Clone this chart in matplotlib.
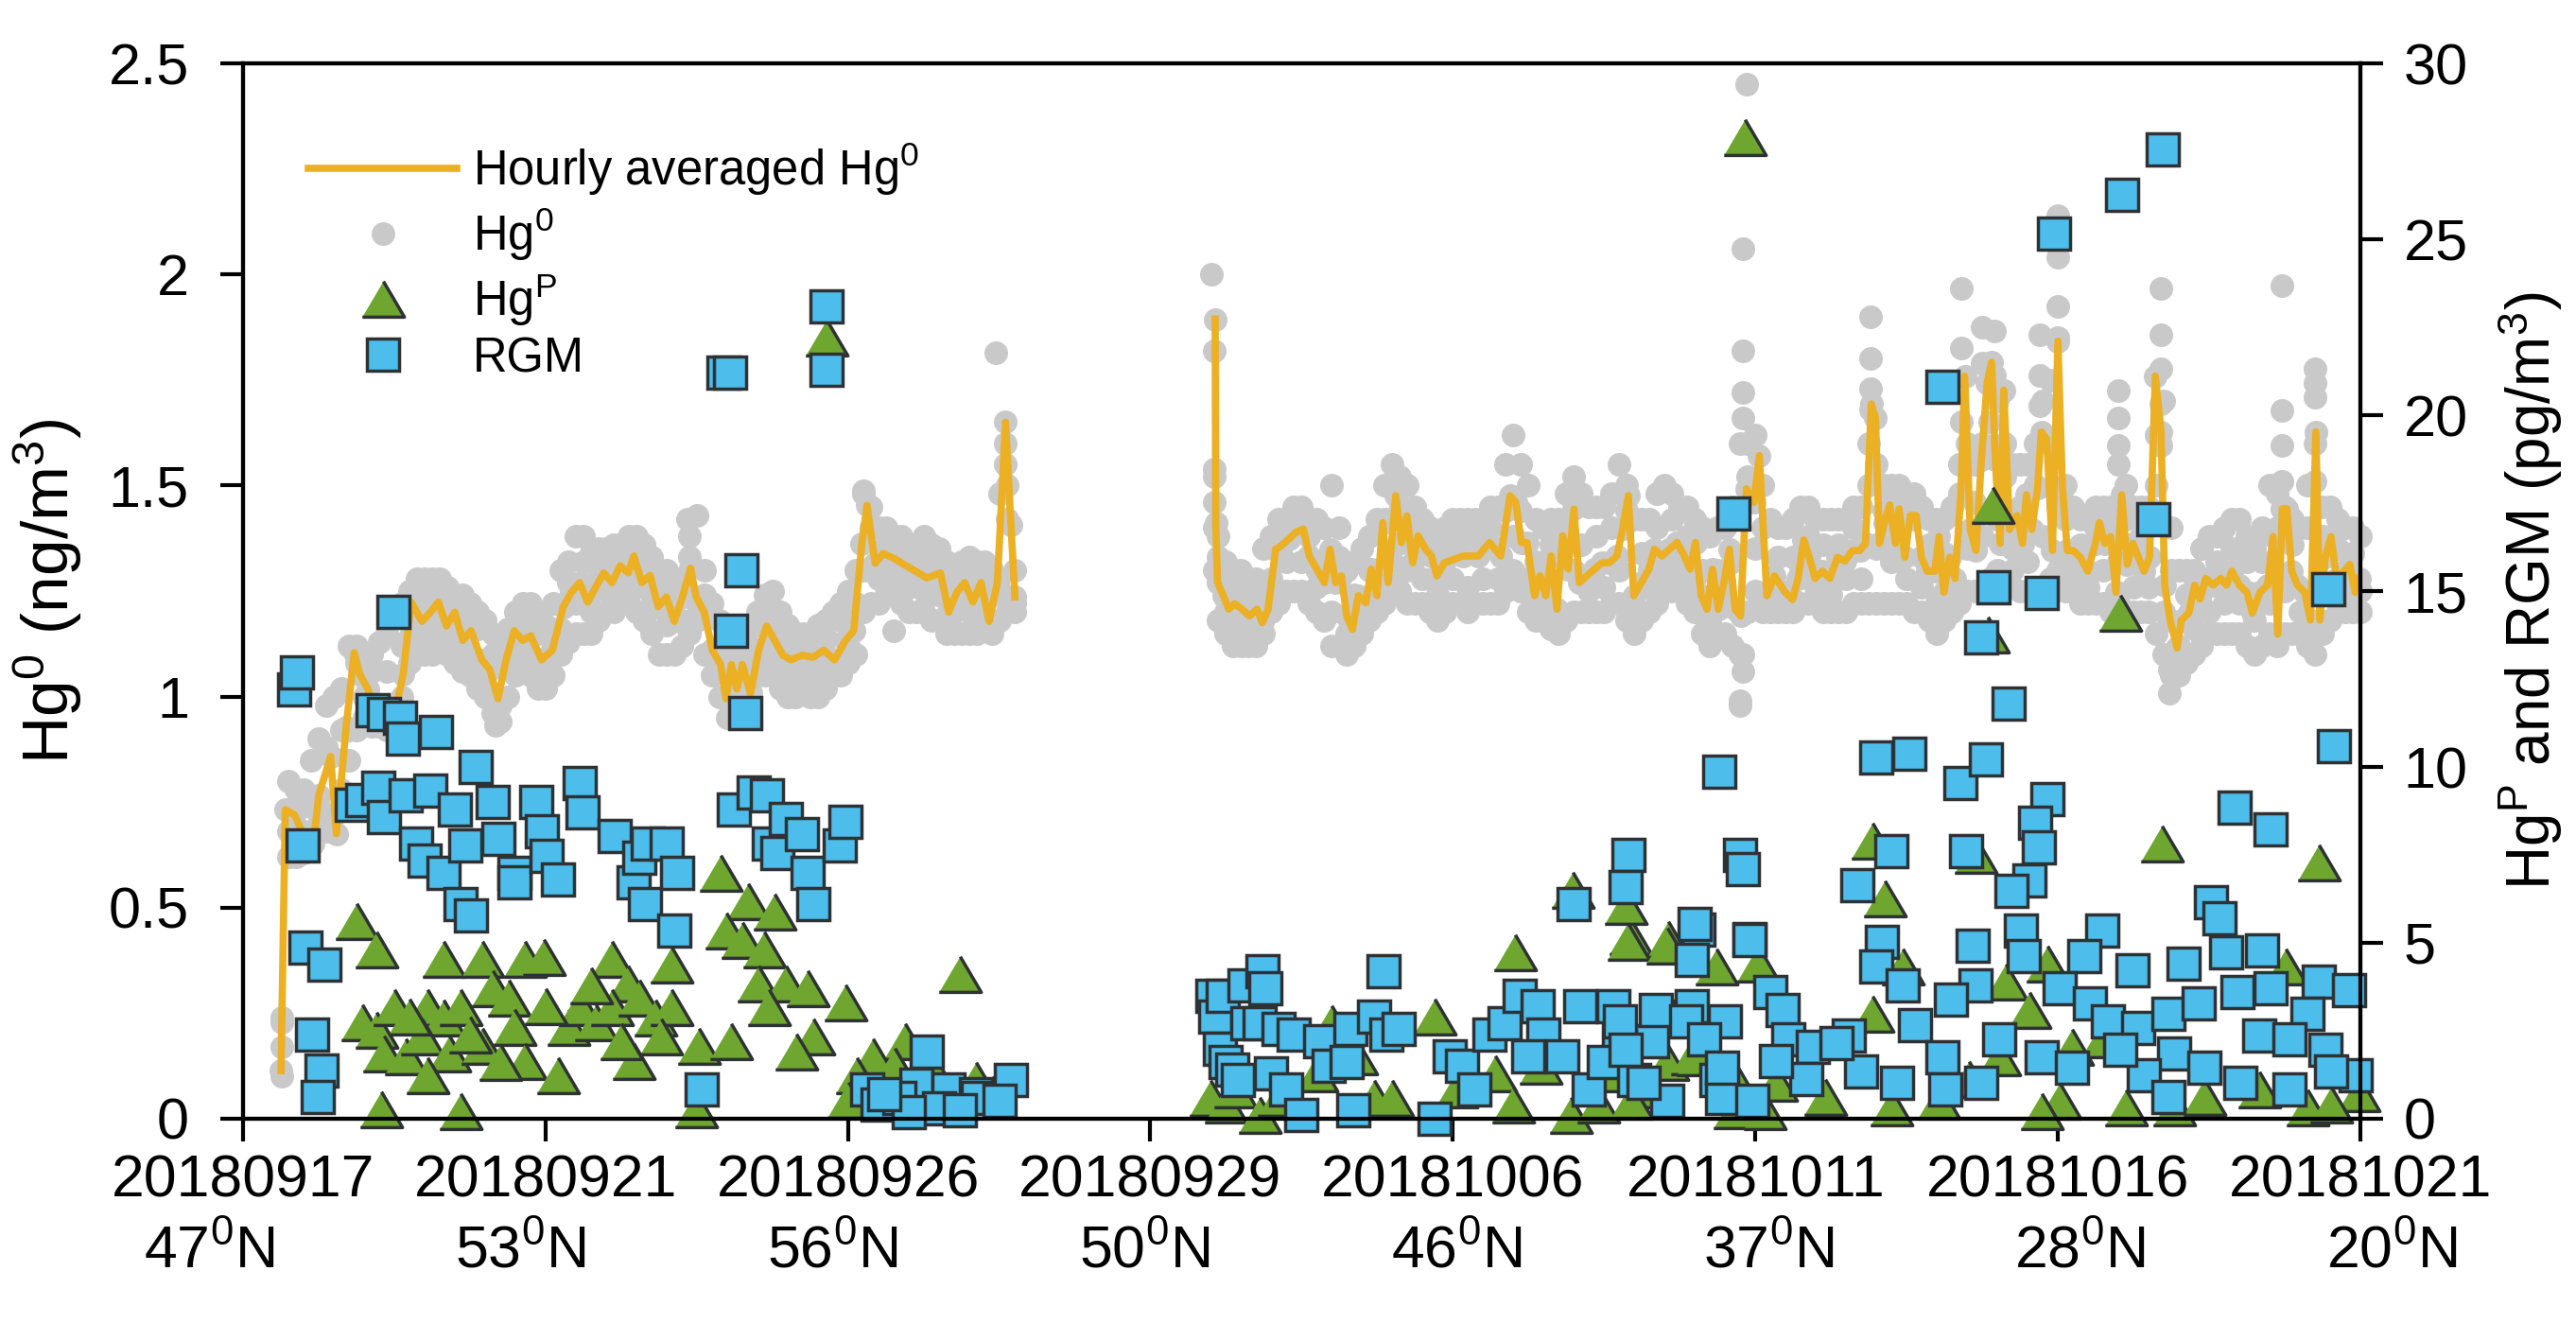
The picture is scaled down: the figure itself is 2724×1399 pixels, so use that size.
import numpy as np
import matplotlib
matplotlib.use("Agg")
import matplotlib.pyplot as plt
import matplotlib.transforms as mtransforms
from matplotlib.ticker import FormatStrFormatter

plt.rcParams['font.family'] = ['Liberation Sans', 'DejaVu Sans']
plt.rcParams['mathtext.fontset'] = 'custom'
plt.rcParams['mathtext.rm'] = 'Liberation Sans'
plt.rcParams['mathtext.it'] = 'Liberation Sans'
plt.rcParams['mathtext.default'] = 'regular'

# ---------------- data (x in tick units: 0 = 20180917 ... 7 = 20181021) ----------------
dates = ['20180917', '20180921', '20180926', '20180929',
         '20181006', '20181011', '20181016', '20181021']
lats = ['47', '53', '56', '50', '46', '37', '28', '20']

# hourly averaged Hg0 (ng/m3), leg 1
hourly_x1 = [0.126, 0.14, 0.17, 0.206, 0.233, 0.251, 0.29, 0.309, 0.341, 0.368, 0.386, 0.413,
             0.44, 0.502, 0.53, 0.556, 0.592, 0.62, 0.646, 0.673, 0.7, 0.727, 0.754, 0.79,
             0.816, 0.843, 0.87, 0.897, 0.924, 0.951, 0.987, 1.023, 1.059, 1.086, 1.113, 1.14,
             1.166, 1.193, 1.22, 1.247, 1.274, 1.292, 1.319, 1.346, 1.373, 1.4, 1.426, 1.453,
             1.48, 1.498, 1.525, 1.552, 1.579, 1.597, 1.615, 1.633, 1.651, 1.678, 1.705, 1.731,
             1.758, 1.785, 1.812, 1.848, 1.884, 1.92, 1.956, 1.992, 2.019, 2.046, 2.063, 2.09,
             2.117, 2.153, 2.207, 2.261, 2.306, 2.333, 2.36, 2.386, 2.413, 2.44, 2.467, 2.494,
             2.521, 2.539, 2.552]
hourly_y1 = [0.114, 0.732, 0.72, 0.664, 0.652, 0.767, 0.858, 0.675, 0.927, 1.104, 1.053, 1.018,
             0.95, 0.961, 1.053, 1.224, 1.178, 1.2, 1.224, 1.167, 1.2, 1.133, 1.156, 1.087,
             1.064, 0.995, 1.087, 1.156, 1.133, 1.144, 1.087, 1.11, 1.213, 1.247, 1.27, 1.224,
             1.259, 1.293, 1.27, 1.31, 1.293, 1.333, 1.27, 1.287, 1.213, 1.236, 1.178, 1.236,
             1.304, 1.236, 1.2, 1.11, 1.076, 0.995, 1.076, 1.018, 1.076, 1.007, 1.11, 1.167,
             1.133, 1.098, 1.087, 1.098, 1.093, 1.11, 1.087, 1.133, 1.156, 1.362, 1.453, 1.316,
             1.339, 1.327, 1.304, 1.281, 1.293, 1.2, 1.247, 1.27, 1.224, 1.27, 1.178, 1.27,
             1.65, 1.407, 1.236]

# hourly averaged Hg0 (ng/m3), leg 2
hourly_x2 = [3.214, 3.216, 3.222, 3.241, 3.259, 3.278, 3.303, 3.327, 3.352, 3.37, 3.389, 3.414,
             3.432, 3.457, 3.481, 3.506, 3.525, 3.55, 3.575, 3.594, 3.612, 3.631, 3.649, 3.668,
             3.687, 3.712, 3.73, 3.749, 3.768, 3.786, 3.811, 3.83, 3.848, 3.867, 3.885, 3.91,
             3.929, 3.947, 3.972, 4.034, 4.084, 4.121, 4.158, 4.189, 4.208, 4.226, 4.245, 4.27,
             4.288, 4.307, 4.325, 4.344, 4.363, 4.381, 4.4, 4.418, 4.443, 4.468, 4.493, 4.517,
             4.542, 4.561, 4.58, 4.598, 4.623, 4.648, 4.666, 4.691, 4.716, 4.741, 4.765, 4.784,
             4.802, 4.821, 4.84, 4.858, 4.877, 4.896, 4.914, 4.933, 4.951, 4.97, 4.995, 5.013,
             5.038, 5.063, 5.098, 5.123, 5.141, 5.16, 5.178, 5.197, 5.222, 5.246, 5.271, 5.296,
             5.321, 5.345, 5.364, 5.383, 5.397, 5.41, 5.426, 5.444, 5.463, 5.475, 5.494, 5.512,
             5.531, 5.549, 5.568, 5.593, 5.607, 5.623, 5.642, 5.66, 5.679, 5.692, 5.71, 5.729,
             5.747, 5.766, 5.781, 5.793, 5.809, 5.821, 5.84, 5.865, 5.883, 5.896, 5.914, 5.933,
             5.945, 5.963, 5.982, 6.0, 6.015, 6.031, 6.05, 6.074, 6.099, 6.124, 6.137, 6.155,
             6.174, 6.192, 6.211, 6.229, 6.248, 6.266, 6.285, 6.303, 6.322, 6.341, 6.353, 6.371,
             6.394, 6.408, 6.433, 6.452, 6.47, 6.489, 6.513, 6.538, 6.557, 6.575, 6.6, 6.625,
             6.643, 6.668, 6.693, 6.711, 6.727, 6.742, 6.757, 6.773, 6.792, 6.816, 6.835, 6.853,
             6.866, 6.884, 6.903, 6.921, 6.946, 6.965, 6.983, 6.996]
hourly_y2 = [1.894, 1.412, 1.27, 1.239, 1.207, 1.22, 1.207, 1.191, 1.207, 1.175, 1.207, 1.349,
             1.357, 1.373, 1.389, 1.397, 1.333, 1.302, 1.27, 1.349, 1.27, 1.286, 1.191, 1.159,
             1.239, 1.222, 1.302, 1.239, 1.412, 1.27, 1.476, 1.365, 1.428, 1.317, 1.381, 1.349,
             1.333, 1.286, 1.317, 1.333, 1.333, 1.365, 1.333, 1.476, 1.46, 1.365, 1.365, 1.239,
             1.286, 1.239, 1.333, 1.207, 1.381, 1.302, 1.444, 1.27, 1.286, 1.302, 1.317, 1.317,
             1.333, 1.397, 1.476, 1.239, 1.27, 1.302, 1.349, 1.333, 1.349, 1.365, 1.333, 1.302,
             1.365, 1.239, 1.207, 1.302, 1.207, 1.27, 1.349, 1.207, 1.191, 1.492, 1.46, 1.571,
             1.239, 1.286, 1.247, 1.23, 1.28, 1.371, 1.33, 1.28, 1.297, 1.28, 1.33, 1.321,
             1.346, 1.346, 1.363, 1.693, 1.66, 1.363, 1.412, 1.454, 1.363, 1.445, 1.33, 1.429,
             1.429, 1.33, 1.297, 1.297, 1.379, 1.247, 1.33, 1.28, 1.478, 1.759, 1.396, 1.346,
             1.561, 1.743, 1.792, 1.561, 1.363, 1.726, 1.396, 1.429, 1.363, 1.478, 1.396, 1.495,
             1.627, 1.61, 1.346, 1.842, 1.495, 1.346, 1.346, 1.33, 1.297, 1.363, 1.412, 1.363,
             1.379, 1.247, 1.478, 1.313, 1.363, 1.33, 1.297, 1.33, 1.759, 1.627, 1.264, 1.181,
             1.115, 1.181, 1.198, 1.264, 1.231, 1.28, 1.264, 1.28, 1.264, 1.297, 1.264, 1.247,
             1.198, 1.247, 1.264, 1.379, 1.148, 1.445, 1.445, 1.297, 1.264, 1.247, 1.181, 1.627,
             1.181, 1.33, 1.379, 1.28, 1.297, 1.313, 1.247, 1.28]

# raw Hg0 points, first row: lower edge, lower middle, upper edge of the scatter band
band_x = [0.13, 0.15, 0.2, 0.25, 0.3, 0.35, 0.4, 0.45, 0.5, 0.55, 0.6, 0.65, 0.7, 0.75, 0.8,
          0.85, 0.9, 0.95, 1.0, 1.05, 1.1, 1.15, 1.2, 1.25, 1.3, 1.35, 1.4, 1.45, 1.5, 1.55,
          1.6, 1.65, 1.7, 1.75, 1.8, 1.85, 1.9, 1.95, 2.0, 2.05, 2.1, 2.15, 2.2, 2.25, 2.3,
          2.35, 2.4, 2.45, 2.5, 2.55,
          3.21, 3.25, 3.3, 3.35, 3.4, 3.45, 3.5, 3.55, 3.6, 3.65, 3.7, 3.75, 3.8, 3.85, 3.9,
          3.95, 4.0, 4.05, 4.1, 4.15, 4.2, 4.25, 4.3, 4.35, 4.4, 4.45, 4.5, 4.55, 4.6, 4.65,
          4.7, 4.75, 4.8, 4.85, 4.9, 4.95, 5.0, 5.05, 5.1, 5.15, 5.2, 5.25, 5.3, 5.35, 5.4,
          5.45, 5.5, 5.55, 5.6, 5.65, 5.7, 5.75, 5.8, 5.85, 5.9, 5.95, 6.0, 6.05, 6.1, 6.15,
          6.2, 6.25, 6.3, 6.35, 6.4, 6.45, 6.5, 6.55, 6.6, 6.65, 6.7, 6.75, 6.8, 6.85, 6.9,
          6.95, 7.0]
band_lo = [0.1, 0.62, 0.63, 0.7, 0.68, 0.85, 0.95, 0.93, 0.95, 1.08, 1.1, 1.12, 1.08, 1.05, 1.0,
           0.94, 1.05, 1.05, 1.02, 1.1, 1.15, 1.15, 1.2, 1.22, 1.2, 1.15, 1.1, 1.12, 1.18, 1.05,
           0.95, 0.98, 1.05, 1.05, 1.0, 1.02, 1.0, 1.05, 1.08, 1.2, 1.22, 1.25, 1.2, 1.2, 1.18,
           1.15, 1.15, 1.18, 1.18, 1.2,
           1.3, 1.15, 1.12, 1.12, 1.2, 1.25, 1.25, 1.2, 1.12, 1.1, 1.15, 1.2, 1.25, 1.22, 1.22,
           1.18, 1.22, 1.2, 1.22, 1.22, 1.3, 1.2, 1.18, 1.15, 1.2, 1.2, 1.2, 1.22, 1.15, 1.2,
           1.25, 1.25, 1.2, 1.12, 1.15, 0.98, 1.25, 1.2, 1.2, 1.22, 1.22, 1.2, 1.2, 1.22, 1.22,
           1.22, 1.22, 1.2, 1.15, 1.2, 1.25, 1.25, 1.3, 1.3, 1.25, 1.25, 1.3, 1.25, 1.22, 1.22,
           1.22, 1.2, 1.2, 1.1, 1.05, 1.1, 1.15, 1.15, 1.15, 1.1, 1.15, 1.15, 1.15, 1.1, 1.18,
           1.2, 1.2]
band_mid = [0.17, 0.68, 0.68, 0.74, 0.72, 0.92, 1.0, 0.96, 0.98, 1.14, 1.15, 1.16, 1.12, 1.1, 1.05,
            0.98, 1.1, 1.1, 1.06, 1.16, 1.22, 1.2, 1.25, 1.27, 1.26, 1.22, 1.17, 1.18, 1.22, 1.1,
            1.0, 1.03, 1.08, 1.1, 1.05, 1.06, 1.05, 1.08, 1.12, 1.3, 1.28, 1.3, 1.26, 1.25, 1.24,
            1.2, 1.2, 1.22, 1.25, 1.22,
            1.4, 1.2, 1.16, 1.16, 1.28, 1.32, 1.32, 1.26, 1.2, 1.15, 1.2, 1.24, 1.32, 1.3, 1.28,
            1.24, 1.28, 1.26, 1.28, 1.28, 1.38, 1.28, 1.22, 1.2, 1.3, 1.25, 1.26, 1.3, 1.2, 1.26,
            1.3, 1.3, 1.28, 1.18, 1.22, 1.1, 1.35, 1.24, 1.23, 1.3, 1.26, 1.24, 1.28, 1.28, 1.35,
            1.32, 1.28, 1.26, 1.22, 1.24, 1.35, 1.38, 1.42, 1.35, 1.32, 1.38, 1.45, 1.3, 1.26, 1.3,
            1.32, 1.26, 1.26, 1.2, 1.12, 1.16, 1.2, 1.22, 1.22, 1.18, 1.22, 1.25, 1.2, 1.16, 1.24,
            1.25, 1.25]
band_hi = [0.24, 0.8, 0.78, 0.9, 1.0, 1.12, 1.1, 1.13, 1.2, 1.25, 1.28, 1.28, 1.24, 1.22, 1.18,
           1.12, 1.2, 1.22, 1.17, 1.3, 1.38, 1.34, 1.35, 1.36, 1.38, 1.33, 1.3, 1.28, 1.43, 1.22,
           1.15, 1.12, 1.2, 1.25, 1.17, 1.15, 1.17, 1.2, 1.25, 1.48, 1.4, 1.38, 1.36, 1.38, 1.35,
           1.3, 1.33, 1.32, 1.48, 1.3,
           1.52, 1.32, 1.3, 1.28, 1.38, 1.42, 1.45, 1.42, 1.5, 1.3, 1.35, 1.42, 1.55, 1.5, 1.42,
           1.38, 1.42, 1.42, 1.42, 1.45, 1.62, 1.5, 1.4, 1.42, 1.52, 1.45, 1.45, 1.55, 1.42, 1.42,
           1.5, 1.45, 1.42, 1.38, 1.4, 1.6, 1.62, 1.42, 1.4, 1.45, 1.42, 1.42, 1.42, 1.45, 1.55,
           1.5, 1.48, 1.45, 1.42, 1.45, 1.6, 1.6, 1.7, 1.55, 1.55, 1.7, 1.85, 1.45, 1.42, 1.45,
           1.55, 1.45, 1.45, 1.7, 1.3, 1.3, 1.38, 1.4, 1.42, 1.35, 1.5, 1.45, 1.4, 1.6, 1.45,
           1.4, 1.38]
# raw Hg0 points, second row (between the ones above): lower edge, upper middle, upper edge
band2_x = [0.175, 0.225, 0.275, 0.325, 0.375, 0.425, 0.475, 0.525, 0.575, 0.625, 0.675, 0.725,
           0.775, 0.825, 0.875, 0.925, 0.975, 1.025, 1.075, 1.125, 1.175, 1.225, 1.275, 1.325,
           1.375, 1.425, 1.475, 1.525, 1.575, 1.625, 1.675, 1.725, 1.775, 1.825, 1.875, 1.925,
           1.975, 2.025, 2.075, 2.125, 2.175, 2.225, 2.275, 2.325, 2.375, 2.425, 2.475, 2.525,
           3.225, 3.275, 3.325, 3.375, 3.425, 3.475, 3.525, 3.575, 3.625, 3.675, 3.725, 3.775,
           3.825, 3.875, 3.925, 3.975, 4.025, 4.075, 4.125, 4.175, 4.225, 4.275, 4.325, 4.375,
           4.425, 4.475, 4.525, 4.575, 4.625, 4.675, 4.725, 4.775, 4.825, 4.875, 4.925, 4.975,
           5.025, 5.075, 5.125, 5.175, 5.225, 5.275, 5.325, 5.375, 5.425, 5.475, 5.525, 5.575,
           5.625, 5.675, 5.725, 5.775, 5.825, 5.875, 5.925, 5.975, 6.025, 6.075, 6.125, 6.175,
           6.225, 6.275, 6.325, 6.375, 6.425, 6.475, 6.525, 6.575, 6.625, 6.675, 6.725, 6.775,
           6.825, 6.875, 6.925, 6.975]
band2_lo = [0.62, 0.66, 0.68, 0.78, 0.92, 0.93, 0.92, 1.0, 1.1, 1.1, 1.1, 1.06,
            1.02, 0.96, 1.0, 1.06, 1.02, 1.05, 1.13, 1.15, 1.18, 1.2, 1.22, 1.18,
            1.1, 1.1, 1.15, 1.1, 1.0, 0.95, 1.0, 1.05, 1.02, 1.0, 1.0, 1.02,
            1.05, 1.1, 1.22, 1.24, 1.22, 1.2, 1.18, 1.15, 1.15, 1.15, 1.15, 1.2,
            1.18, 1.12, 1.12, 1.15, 1.22, 1.25, 1.22, 1.18, 1.12, 1.12, 1.18, 1.22,
            1.25, 1.22, 1.2, 1.2, 1.22, 1.22, 1.22, 1.25, 1.25, 1.18, 1.16, 1.18,
            1.2, 1.2, 1.22, 1.18, 1.18, 1.22, 1.25, 1.22, 1.15, 1.14, 1.12, 1.2,
            1.2, 1.2, 1.2, 1.22, 1.2, 1.2, 1.22, 1.22, 1.22, 1.22, 1.2, 1.18,
            1.18, 1.22, 1.25, 1.28, 1.28, 1.25, 1.25, 1.28, 1.25, 1.22, 1.22, 1.2,
            1.2, 1.2, 1.15, 1.05, 1.08, 1.12, 1.15, 1.15, 1.12, 1.12, 1.12, 1.15,
            1.12, 1.15, 1.2, 1.2]
band2_mid = [0.74, 0.74, 0.88, 0.92, 1.08, 1.06, 1.06, 1.12, 1.24, 1.24, 1.22, 1.18,
             1.16, 1.1, 1.12, 1.18, 1.15, 1.16, 1.27, 1.32, 1.3, 1.32, 1.34, 1.32,
             1.26, 1.23, 1.33, 1.24, 1.12, 1.06, 1.1, 1.2, 1.15, 1.12, 1.12, 1.14,
             1.18, 1.22, 1.4, 1.36, 1.34, 1.33, 1.32, 1.26, 1.28, 1.28, 1.24, 1.42,
             1.33, 1.26, 1.24, 1.26, 1.38, 1.42, 1.38, 1.32, 1.33, 1.24, 1.3, 1.42,
             1.44, 1.4, 1.36, 1.36, 1.38, 1.38, 1.4, 1.44, 1.44, 1.32, 1.36, 1.4,
             1.36, 1.38, 1.4, 1.44, 1.34, 1.4, 1.42, 1.38, 1.3, 1.3, 1.32, 1.52,
             1.4, 1.33, 1.33, 1.38, 1.36, 1.36, 1.4, 1.5, 1.44, 1.46, 1.42, 1.36,
             1.34, 1.48, 1.46, 1.58, 1.52, 1.45, 1.5, 1.6, 1.42, 1.36, 1.4, 1.4,
             1.42, 1.38, 1.5, 1.3, 1.24, 1.28, 1.32, 1.35, 1.32, 1.32, 1.4, 1.36,
             1.4, 1.38, 1.35, 1.34]
band2_hi = [0.78, 0.85, 0.98, 1.02, 1.12, 1.1, 1.15, 1.22, 1.28, 1.28, 1.26, 1.24,
            1.2, 1.15, 1.16, 1.22, 1.2, 1.22, 1.32, 1.38, 1.35, 1.36, 1.38, 1.36,
            1.3, 1.28, 1.38, 1.3, 1.18, 1.12, 1.16, 1.24, 1.2, 1.15, 1.15, 1.18,
            1.22, 1.3, 1.45, 1.4, 1.38, 1.36, 1.36, 1.32, 1.32, 1.32, 1.3, 1.5,
            1.38, 1.3, 1.28, 1.35, 1.42, 1.45, 1.42, 1.4, 1.4, 1.32, 1.38, 1.5,
            1.52, 1.45, 1.4, 1.4, 1.42, 1.42, 1.45, 1.55, 1.55, 1.42, 1.42, 1.48,
            1.48, 1.45, 1.48, 1.5, 1.42, 1.48, 1.48, 1.45, 1.4, 1.4, 1.45, 1.6,
            1.5, 1.4, 1.42, 1.45, 1.42, 1.42, 1.45, 1.6, 1.5, 1.5, 1.48, 1.42,
            1.42, 1.55, 1.55, 1.65, 1.6, 1.55, 1.6, 1.75, 1.5, 1.42, 1.45, 1.45,
            1.5, 1.45, 1.62, 1.4, 1.3, 1.35, 1.38, 1.42, 1.38, 1.4, 1.48, 1.42,
            1.5, 1.45, 1.42, 1.4]
# isolated raw Hg0 points
spike_x = [0.13, 0.834, 1.47, 2.05, 2.15, 2.49, 2.52, 2.52, 3.203, 3.21, 3.21, 3.21,
           4.97, 4.96, 4.96, 4.96, 4.96, 4.96, 4.96, 4.95, 5.38, 5.38, 5.38, 5.38,
           5.68, 5.68, 5.68, 5.75, 5.75, 5.79, 5.79, 5.79, 5.94, 5.94, 5.94, 6.0, 6.0, 6.0,
           6.2, 6.2, 6.2, 6.34, 6.34, 6.34, 6.34, 6.34, 6.37, 6.37,
           6.74, 6.74, 6.74, 6.74, 6.85, 6.85, 6.85, 6.85]
spike_y = [0.229, 0.933, 1.42, 1.487, 1.156, 1.815, 1.6, 1.55, 2.0, 1.82, 1.54, 1.46,
           2.45, 2.06, 1.82, 1.72, 1.66, 1.1, 1.06, 0.99, 1.9, 1.8, 1.73, 1.68,
           1.966, 1.825, 1.65, 1.875, 1.79, 1.867, 1.76, 1.594, 1.858, 1.76, 1.69, 2.14, 2.04, 1.924,
           1.726, 1.66, 1.594, 1.966, 1.858, 1.776, 1.693, 1.594, 1.065, 1.008,
           1.974, 1.677, 1.594, 1.51, 1.776, 1.743, 1.71, 1.51]

# HgP (pg/m3)
hgp_x = [0.377, 0.44, 0.395, 0.44, 0.502, 0.467, 0.538, 0.458, 0.664, 0.61, 0.664, 0.718,
         0.592, 0.682, 0.61, 0.718, 0.79, 0.825, 0.879, 0.933, 0.996, 0.897, 0.79, 0.933,
         1.041, 1.077, 1.112, 1.166, 1.22, 1.274, 1.22, 1.31, 1.364, 1.418, 1.418, 1.382,
         1.292, 1.507, 1.615, 1.579, 1.669, 1.758, 1.597, 1.651, 1.723, 1.705, 1.794, 1.866,
         1.992, 1.74, 1.884, 1.83, 2.369, 2.189, 2.081, 2.028, 2.279, 2.153, 2.422, 2.0,
         2.225, 2.476, 1.498, 1.93, 0.55, 0.75, 1.0, 1.15, 1.25, 0.85,
         3.2, 3.25, 3.28, 3.36, 3.425, 3.55, 3.6, 3.68, 3.74, 3.8, 3.94, 4.01, 4.14, 4.2,
         4.29, 4.39, 4.48, 4.55, 4.62, 4.71, 4.79, 4.93, 4.205, 4.397, 4.588, 4.712,
         6.205, 5.767, 5.388, 5.428, 5.727, 6.345, 6.864, 4.581, 4.71, 4.571, 4.87, 5.009,
         5.388, 5.488, 5.827, 5.907, 5.966, 6.754, 6.046, 6.146, 5.707, 5.807, 4.81, 4.93,
         5.069, 5.229, 4.591, 6.006, 6.225, 6.385, 6.485, 6.664, 6.824, 6.993, 5.946, 5.448,
         5.607, 5.029, 6.903, 4.965, 5.784]
hgp_y = [5.63, 4.8, 2.75, 2.54, 3.16, 1.85, 1.78, 0.27, 4.53, 3.16, 2.88, 3.16,
         2.33, 1.85, 1.24, 0.21, 4.53, 3.71, 3.43, 4.53, 4.6, 2.6, 2.06, 1.65,
         1.24, 2.6, 3.16, 2.75, 4.53, 3.84, 3.16, 3.43, 2.88, 4.39, 3.16, 2.33,
         1.65, 2.06, 2.2, 7.0, 6.18, 5.9, 5.35, 5.08, 4.8, 3.84, 3.84, 3.71,
         3.3, 3.16, 2.33, 1.92, 4.12, 2.2, 1.78, 1.24, 1.37, 1.51, 1.1, 0.55,
         0.55, 0.69, 0.27, 22.2, 2.9, 2.4, 3.2, 3.8, 2.2, 1.6,
         0.6, 0.4, 0.82, 0.1, 0.6, 1.3, 2.72, 1.78, 0.6, 0.6, 2.9, 0.82, 1.3, 0.4,
         1.5, 0.1, 0.4, 1.3, 0.82, 1.6, 1.78, 0.25, 4.72, 6.5, 5.19, 5.1,
         14.38, 13.77, 7.91, 6.27, 7.5, 7.81, 7.29, 5.03, 4.93, 6.06, 4.32, 4.42,
         2.98, 4.32, 3.9, 3.08, 4.42, 4.32, 2.05, 2.26, 1.13, 1.75, 1.75, 1.13,
         1.03, 0.62, 0.51, 0.51, 0.31, 0.31, 0.62, 0.82, 0.31, 0.72, 0.21, 0.31,
         0.51, 0.21, 0.41, 27.9, 17.45]

# RGM (pg/m3)
rgm_x = [0.17, 0.179, 0.197, 0.206, 0.269, 0.23, 0.26, 0.246, 0.499, 0.43, 0.467, 0.52,
         0.53, 0.637, 0.77, 0.359, 0.395, 0.449, 0.467, 0.538, 0.574, 0.601, 0.619, 0.664,
         0.7, 0.718, 0.754, 0.736, 0.825, 0.843, 0.897, 0.897, 0.969, 0.987, 1.005, 1.041,
         1.112, 1.122, 1.229, 1.292, 1.31, 1.337, 1.4, 1.436, 1.328, 1.427, 1.516, 1.615,
         1.647, 1.66, 1.624, 1.687, 1.732, 1.74, 1.767, 1.794, 1.848, 1.866, 1.884, 1.974,
         1.992, 2.063, 2.099, 2.261, 2.225, 2.333, 2.422, 2.539, 2.17, 2.43, 2.3, 2.2,
         2.12, 2.37, 2.5, 1.59, 1.61, 1.93, 1.93,
         3.204, 3.214, 3.24, 3.23, 3.25, 3.27, 3.29, 3.31, 3.37, 3.38, 3.32, 3.36,
         3.425, 3.475, 3.4, 3.45, 3.5, 3.56, 3.59, 3.65, 3.66, 3.74, 3.77, 3.78,
         3.82, 3.67, 3.94, 3.99, 4.03, 4.07, 4.12, 4.17, 4.22, 4.28, 4.3, 4.25,
         4.36, 4.42, 4.45, 4.53, 4.55, 4.5, 4.6, 4.68, 4.66, 4.79, 4.87, 4.89,
         4.4, 4.812, 4.928, 4.98,
         5.787, 5.946, 5.747, 5.837, 6.893, 6.913, 4.88, 5.398, 5.508, 5.677, 5.763, 5.966,
         6.584, 6.704, 5.926, 4.581, 4.571, 4.95, 4.96, 5.448, 5.338, 5.697, 5.936, 5.907,
         5.847, 6.505, 6.535, 4.8, 4.98, 4.79, 5.418, 5.398, 5.488, 5.717, 5.877, 5.887,
         6.146, 6.086, 6.246, 6.415, 6.555, 6.674, 6.864, 6.963, 5.727, 5.647, 5.049, 5.089,
         4.9, 4.67, 4.551, 4.77, 4.83, 5.109, 5.189, 5.308, 5.528, 5.617, 5.807, 5.946,
         6.006, 6.106, 6.166, 6.265, 6.365, 6.465, 6.595, 6.704, 6.824, 6.664, 6.764, 6.884,
         6.983, 6.903, 6.385, 6.485, 6.285, 6.604, 6.046, 5.747, 5.627, 5.468, 5.348, 5.269,
         5.169, 4.99, 4.71, 4.63, 4.571, 4.89, 5.069, 6.205, 6.365, 6.764,
         5.988, 6.211, 6.347, 5.617, 6.316]
rgm_y = [12.2, 12.7, 7.76, 4.87, 4.39, 2.4, 1.37, 0.62, 14.4, 11.6, 11.5, 11.4,
         10.8, 11.0, 10.0, 8.92, 9.06, 9.4, 8.58, 9.2, 7.83, 7.35, 9.34, 7.0,
         8.79, 6.11, 5.77, 7.76, 9.0, 7.96, 7.0, 6.73, 9.0, 8.17, 7.48, 6.8,
         9.54, 8.72, 8.03, 6.73, 7.41, 7.83, 7.83, 7.0, 6.11, 5.35, 0.82, 13.87,
         15.6, 11.53, 8.79, 9.27, 9.2, 7.83, 7.55, 8.51, 8.1, 7.0, 6.11, 7.76,
         8.44, 0.82, 0.41, 1.92, 0.96, 0.82, 0.69, 1.1, 0.6, 0.6, 0.3, 0.2,
         0.7, 0.25, 0.5, 21.2, 21.2, 23.1, 21.3,
         3.5, 2.9, 3.5, 2.0, 1.6, 1.4, 1.1, 3.8, 4.2, 3.7, 2.72, 2.72,
         2.55, 2.4, 1.3, 0.82, 0.1, 2.2, 1.5, 1.6, 2.55, 2.9, 4.2, 2.4,
         2.55, 0.25, 0.0, 1.78, 1.5, 0.82, 2.4, 2.72, 3.5, 3.2, 2.4, 1.78,
         1.78, 3.2, 0.82, 3.2, 2.2, 1.6, 1.1, 2.9, 2.2, 3.2, 1.1, 0.6,
         6.1, 5.37, 17.2, 5.1,
         15.1, 14.95, 13.67, 11.8, 15.05, 10.58, 9.86, 10.27, 10.38, 9.55, 10.22, 9.09,
         8.84, 8.22, 8.42, 7.5, 6.58, 7.5, 7.09, 7.6, 6.63, 7.6, 7.71, 6.78,
         6.47, 6.16, 5.7, 5.55, 5.09, 4.52, 5.03, 4.32, 3.8, 4.93, 5.34, 4.62,
         5.34, 4.62, 4.21, 4.42, 4.73, 4.78, 3.9, 3.65, 3.8, 3.39, 3.6, 3.08,
         2.77, 3.08, 2.77, 2.77, 2.26, 2.26, 2.05, 2.36, 2.67, 1.75, 2.26, 1.75,
         3.7, 3.29, 2.77, 2.57, 2.98, 3.29, 3.6, 3.7, 2.98, 2.36, 2.26, 1.95,
         1.23, 1.34, 1.85, 1.44, 1.23, 1.03, 1.44, 1.03, 0.82, 1.03, 1.34, 2.16,
         1.13, 0.51, 0.51, 1.03, 1.95, 1.44, 1.64, 1.95, 0.62, 0.82,
         25.17, 26.27, 27.55, 20.8, 17.05]

# ---------------- figure ----------------
orange = '#ebb023'
grey = '#c9c9c9'
green = '#6ea62f'
blue = '#4dbdeb'
edge = '#2e3235'
tri = [(-1, -0.85), (1, -0.85), (0, 0.85)]

fig = plt.figure(figsize=(27.24, 13.99), dpi=100)
ax = fig.add_axes([0.0943, 0.1544, 0.8220, 0.7977])
ax2 = ax.twinx()

gx = np.concatenate([band_x, band_x, band_x, band2_x, band2_x, band2_x,
                     hourly_x1, hourly_x2, spike_x])
gy = np.concatenate([band_lo, band_mid, band_hi, band2_lo, band2_mid, band2_hi,
                     hourly_y1, hourly_y2, spike_y])
h_grey, = ax.plot(gx, gy, 'o', ms=18, color=grey, mec='none', zorder=1, clip_on=False)
h_line, = ax.plot(hourly_x1, hourly_y1, '-', color=orange, lw=5.5, zorder=2)
ax.plot(hourly_x2, hourly_y2, '-', color=orange, lw=5.5, zorder=2)

h_tri, = ax2.plot(hgp_x, hgp_y, ls='none', marker=tri, ms=32, mfc=green, mec=edge,
                  mew=2.5, clip_on=False)
h_sq, = ax2.plot(rgm_x, rgm_y, ls='none', marker='s', ms=24, mfc=blue, mec=edge,
                 mew=2.5, clip_on=False)

ax.set_xlim(0, 7)
ax.set_ylim(0, 2.5)
ax2.set_ylim(0, 30)

ax.set_xticks(range(len(dates)))
ax.set_xticklabels(dates)
ax.set_yticks([0, 0.5, 1, 1.5, 2, 2.5])
ax.yaxis.set_major_formatter(FormatStrFormatter('%g'))
ax2.set_yticks([0, 5, 10, 15, 20, 25, 30])

ax.tick_params(axis='both', direction='out', length=17, width=3)
ax.tick_params(axis='x', labelsize=45, pad=9)
ax.tick_params(axis='y', labelsize=44, pad=24)
ax2.tick_params(axis='y', direction='out', length=17, width=3, labelsize=44, pad=16)
for a in (ax, ax2):
    for s in a.spines.values():
        s.set_linewidth(3)

# latitude row under the dates
trans = mtransforms.blended_transform_factory(ax.transData, ax.transAxes)
lat_x = np.arange(len(lats)) * 1.031 - 0.113
for xp, lat in zip(lat_x, lats):
    ax.text(xp, -0.141, lat + '$^0$N', transform=trans, ha='center', va='baseline',
            fontsize=45, clip_on=False)

ax.set_ylabel('Hg$^0$ (ng/m$^3$)', fontsize=50)
ax.yaxis.set_label_coords(-0.075, 0.5)
ax2.set_ylabel('Hg$^P$ and RGM (pg/m$^3$)', fontsize=46)
ax2.yaxis.set_label_coords(1.064, 0.5)

ax2.legend([h_line, h_grey, h_tri, h_sq],
           ['Hourly averaged Hg$^0$', 'Hg$^0$', 'Hg$^P$', 'RGM'],
           loc='upper left', bbox_to_anchor=(0.031, 0.927), frameon=False,
           fontsize=36.5, handlelength=3.1, handletextpad=0.33, labelspacing=0.17,
           borderpad=0, borderaxespad=0, numpoints=1)

fig.savefig('out.png', dpi=100)
